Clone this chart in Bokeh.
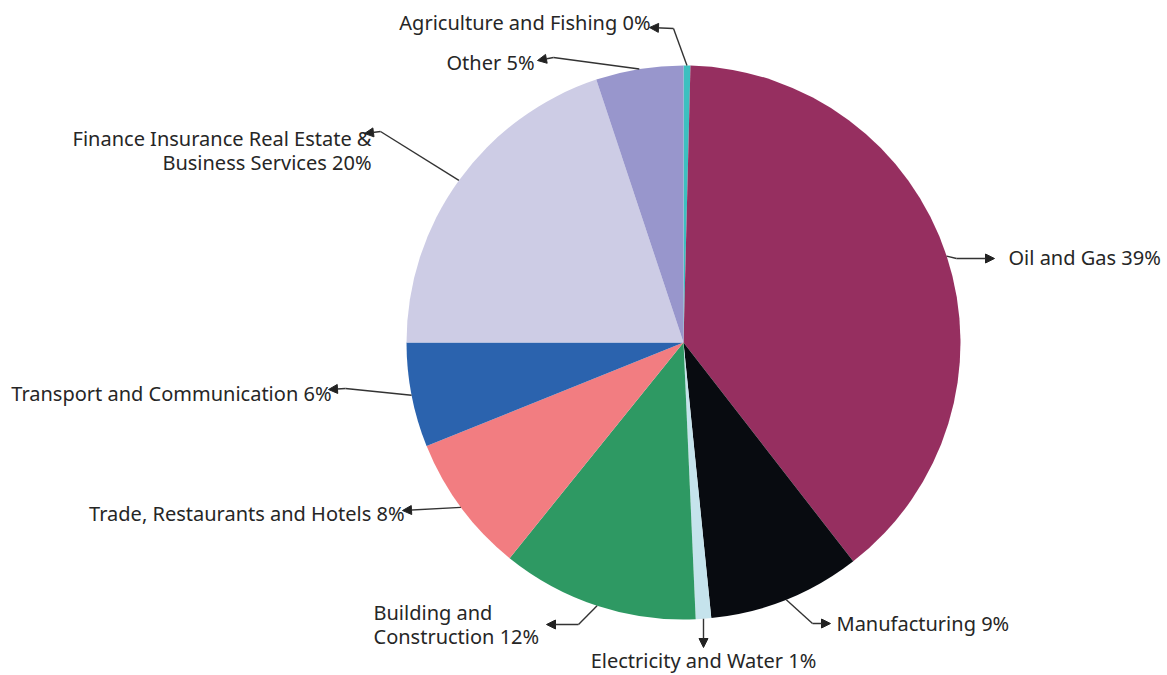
import numpy as np
from bokeh.plotting import figure
from bokeh.models import Range1d, Arrow, NormalHead, ColumnDataSource
from bokeh.embed import file_html
from bokeh.resources import INLINE
from bokeh.core.properties import value

W, H = 1167, 675

# ---- data ----
categories = ["Agriculture and Fishing", "Oil and Gas", "Manufacturing",
              "Electricity and Water", "Building and Construction",
              "Trade, Restaurants and Hotels", "Transport and Communication",
              "Finance Insurance Real Estate & Business Services", "Other"]
shares = [0.4, 39.1, 8.9, 0.9, 11.5, 8.1, 6.1, 19.9, 5.1]
label_lines = [["Agriculture and Fishing 0%"], ["Oil and Gas 39%"], ["Manufacturing 9%"],
               ["Electricity and Water 1%"], ["Building and", "Construction 12%"],
               ["Trade, Restaurants and Hotels 8%"], ["Transport and Communication 6%"],
               ["Finance Insurance Real Estate &", "Business Services 20%"], ["Other 5%"]]
colors = ["#3cc0c0", "#962f60", "#080b10", "#c5e3ec", "#2e9963",
          "#f27d81", "#2b63ae", "#cdcce5", "#9896cc"]

# ---- layout (screen px, y down) ----
CX, CY, R = 683, 342, 277
layout = [
    dict(elbow=[(673, 28)], tip=(649, 27), tx=650, ty=22, align="right"),
    dict(elbow=[(956, 258)], tip=(994, 258), tx=1008, ty=257, align="left"),
    dict(elbow=[(812, 623)], tip=(830, 623), tx=836, ty=623, align="left"),
    dict(elbow=[], tip=(704, 647), tx=703, ty=660, align="center"),
    dict(elbow=[(578, 624)], tip=(546, 624), tx=373, ty=612, align="left"),
    dict(elbow=[], tip=(402, 510), tx=404, ty=513, align="right"),
    dict(elbow=[(345, 388)], tip=(328, 389), tx=331, ty=393, align="right"),
    dict(elbow=[(380, 131)], tip=(364, 133), tx=371, ty=138, align="right"),
    dict(elbow=[(553, 57)], tip=(537, 60), tx=534, ty=62, align="right"),
]
LINE_H = 24

def fy(y):
    return H - y

p = figure(width=W, height=H, x_range=Range1d(0, W), y_range=Range1d(0, H),
           min_border=0, output_backend="svg", toolbar_location=None)
p.axis.visible = False
p.grid.visible = False
p.outline_line_color = None
p.background_fill_color = "white"
p.border_fill_color = "white"

tot = sum(shares)
frac = np.array(shares) / tot
cum_end = np.cumsum(frac)
cum_start = cum_end - frac
start_ang = np.pi / 2 - 2 * np.pi * cum_start
end_ang = np.pi / 2 - 2 * np.pi * cum_end
src = ColumnDataSource(dict(start=start_ang, end=end_ang, color=colors, cat=categories))
p.wedge(x=CX, y=fy(CY), radius=R, start_angle="start", end_angle="end",
        direction="clock", fill_color="color", line_color=None, source=src)

mid = (cum_start + cum_end) / 2
lc = "#333333"
for i, lay in enumerate(layout):
    a = 2 * np.pi * mid[i]
    sx = CX + R * np.sin(a)
    sy = CY - R * np.cos(a)
    if i == 3:
        lay["tip"] = (sx, lay["tip"][1])
    pts = [(sx, sy)] + lay["elbow"]
    xs = [q[0] for q in pts]
    ys = [fy(q[1]) for q in pts]
    if len(pts) > 1:
        p.line(xs, ys, line_color=lc, line_width=1.4)
    last = pts[-1]
    p.add_layout(Arrow(x_start=last[0], y_start=fy(last[1]), x_end=lay["tip"][0], y_end=fy(lay["tip"][1]),
                       line_color=lc, line_width=1.4,
                       end=NormalHead(size=9, fill_color="#222222", line_color="#222222")))
    for j, t in enumerate(label_lines[i]):
        p.text(x=[lay["tx"]], y=[fy(lay["ty"] + j * LINE_H)], text=[t],
               text_font=value("Noto Sans"), text_font_size="20px",
               text_align=lay["align"], text_baseline="middle", text_color="#262626")

open("out.html", "w").write(file_html(p, INLINE))
